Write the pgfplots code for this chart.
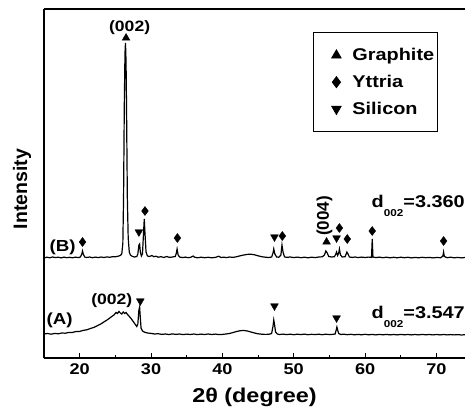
\documentclass[border=0pt]{standalone}
\usepackage{fontspec}
\setmainfont{Liberation Sans}[FakeStretch=1.17]
\newfontfamily\plainfont{Liberation Sans}
\usepackage{pgfplots}
\pgfplotsset{compat=1.18}
\newcommand\fs[1]{\fontsize{#1}{#1}\selectfont}
\pgfplotsset{
    phase/.style={only marks, black, mark size=4.5pt,
        legend image code/.code={\path[draw=none,fill=none] (0pt,-1pt) rectangle (36pt,1pt);
            \draw[mark repeat=2,mark phase=2,##1,only marks,mark size=5.5pt]
            plot coordinates {(0pt,0pt)(21pt,0pt)(36pt,0pt)};}},
}

% XRD pattern (B): graphitized sample, baseline ~100
\pgfplotstableread{
x y
15.0 100
15.4 100.8
15.8 100.2
16.2 101
16.6 100.4
17.0 100.8
17.4 100.1
17.8 100.9
18.2 100.3
18.6 100.7
19.0 100.2
19.4 100.9
19.8 100.4
20.1 101
20.3 104
20.4 107
20.5 104
20.7 101
21.0 100.5
21.4 101
21.8 100.3
22.2 100.9
22.6 100.4
23.0 101
23.4 100.5
23.8 101.1
24.2 100.7
24.6 101.3
25.0 101.2
25.4 101.8
25.7 102.5
25.9 104
26.05 115
26.15 160
26.25 250
26.35 305
26.42 315
26.5 296
26.58 240
26.68 160
26.8 120
26.95 106
27.1 103
27.4 101.5
27.7 101
28.0 101.5
28.15 104
28.3 113
28.4 114
28.5 106
28.65 102
28.8 104
28.95 125
29.05 139
29.15 125
29.3 106
29.5 102
29.8 101.5
30.1 102.5
30.4 101.3
30.7 101.8
31.0 100.8
31.4 101.3
31.8 100.5
32.2 101.5
32.6 100.6
33.0 101
33.4 101.5
33.55 105
33.65 109
33.8 103
34.0 101
34.4 100.4
34.8 100.9
35.2 100.3
35.6 100.8
35.9 102
36.1 100.8
36.5 100.2
37.0 100.8
37.5 100.3
38.0 100.7
38.5 100.2
39.0 100.6
39.5 101.8
39.8 100.5
40.2 100.8
40.6 100.4
41.0 101
41.5 100.6
42.0 101.3
42.5 102.2
43.0 103
43.5 103.6
44.0 103.8
44.5 103.2
45.0 102.2
45.5 101.3
46.0 100.8
46.5 100.5
46.9 101
47.1 105
47.2 109
47.35 104
47.6 101
47.9 100.8
48.2 103
48.35 113
48.5 106
48.7 101.2
49.0 100.6
49.5 101
50.0 100.4
50.5 100.9
51.0 100.3
51.5 100.8
52.0 100.2
52.5 100.8
53.0 100.4
53.5 101
54.0 101.2
54.3 103
54.5 107
54.7 105
54.9 101.5
55.3 101
55.7 101.3
55.9 104
56.0 106
56.15 102.5
56.3 105
56.4 109
56.55 103
56.8 101
57.2 101.3
57.45 106
57.6 104
57.8 101
58.2 100.6
58.6 101
59.0 100.4
59.5 100.9
60.0 100.5
60.5 100.9
60.9 100.6
61.0 119
61.1 101
61.5 100.4
62.0 100.9
62.5 100.3
63.0 100.8
63.5 100.2
64.0 100.7
64.5 100.2
65.0 100.8
65.5 100.3
66.0 100.7
66.5 100.1
67.0 100.6
67.5 100.2
68.0 100.7
68.5 100.3
69.0 100.6
69.5 100.1
70.0 100.5
70.6 100.3
70.9 102
71.0 106
71.1 101.5
71.5 100.3
72.0 100.8
72.5 100.2
73.0 100.6
73.5 100.1
74.0 100.5
}\patternB

% XRD pattern (A): baseline ~24
\pgfplotstableread{
x y
15.0 24
15.5 24.5
16.0 23.8
16.5 24.6
17.0 24.2
17.5 25
18.0 24.8
18.5 25.6
19.0 25.6
19.5 26.5
20.0 26.6
20.5 27.6
21.0 28.2
21.5 29.5
22.0 30.6
22.5 32.4
23.0 34.2
23.5 36.5
24.0 38.8
24.4 41
24.8 43
25.1 45.5
25.3 44.5
25.5 46.5
25.7 45
25.9 44
26.1 46
26.3 44.5
26.5 45.5
26.7 43.5
26.9 42
27.2 39.5
27.5 36.5
27.8 33.5
28.0 31.5
28.15 34
28.3 48
28.4 51
28.5 40
28.6 30
28.8 27
29.1 25.8
29.5 25
30.0 24.6
30.5 24
31.0 24.3
31.5 23.6
32.0 24
32.5 23.5
33.0 24.1
33.5 23.6
34.0 24
34.5 23.4
35.0 23.9
35.5 23.5
36.0 24
36.5 23.4
37.0 23.9
37.5 23.5
38.0 24
38.5 23.5
39.0 23.9
39.5 23.4
40.0 23.6
40.5 24
41.0 24.5
41.5 25.5
42.0 26.5
42.5 27.3
43.0 27.5
43.5 27
44.0 26
44.5 25
45.0 24.2
45.5 23.8
46.0 23.6
46.5 23.7
46.9 24.5
47.1 32
47.2 38
47.3 34
47.45 26
47.7 24
48.0 23.5
48.5 23.9
49.0 23.4
49.5 23.8
50.0 23.3
50.5 23.8
51.0 23.4
51.5 23.9
52.0 23.3
52.5 23.7
53.0 23.4
53.5 23.8
54.0 23.3
54.5 23.8
55.0 23.4
55.5 23.7
55.8 24
55.95 28
56.05 31
56.15 28
56.3 24.5
56.6 23.5
57.0 23.8
57.5 23.3
58.0 23.7
58.5 23.2
59.0 23.6
59.5 23.2
60.0 23.7
60.5 23.2
61.0 23.6
61.5 23.1
62.0 23.6
62.5 23.2
63.0 23.6
63.5 23.1
64.0 23.5
64.5 23.1
65.0 23.6
65.5 23.2
66.0 23.5
66.5 23.1
67.0 23.5
67.5 23.1
68.0 23.6
68.5 23.2
69.0 23.5
69.5 23.1
70.0 23.5
70.5 23.1
71.0 23.5
71.5 23.1
72.0 23.4
72.5 23.1
73.0 23.4
73.5 23
74.0 23.3
}\patternA

\begin{document}
\bfseries
\begin{tikzpicture}
\begin{axis}[
    width=421pt, height=349pt, scale only axis,
    xmin=15, xmax=74, ymin=0, ymax=349,
    axis x line=box, axis y line=left,
    axis line style={-, line width=1.2pt},
    xtick pos=bottom,
    xtick={20,30,...,70}, minor x tick num=1,
    ytick=\empty,
    tick align=inside,
    major tick length=5pt, minor tick length=3pt,
    every tick/.style={black, line width=1pt},
    /pgf/number format/assume math mode=true,
    xticklabel style={font=\fs{15.5}, yshift=-2pt},
    xlabel={2θ (degree)},
    xlabel style={font=\fs{20}, at={(axis description cs:0.5,-0.112)}, anchor=center},
    ylabel={\plainfont\fs{19.5}Intensity},
    ylabel style={at={(axis description cs:-0.052,0.484)}, anchor=center},
    clip=false,
    legend style={at={(0.639,0.934)}, anchor=north west, draw=black,
        line width=0.8pt, font=\fs{17}, inner xsep=2pt, inner ysep=16pt,
        row sep=13pt, nodes={inner xsep=1pt, inner ysep=0pt}},
    legend cell align=left,
]
% phase markers
\addplot[phase, mark=triangle*] coordinates {
    (26.5,320) (54.6,116)};
\addlegendentry{Graphite\hspace{-8pt}}
\addplot[phase, mark=diamond*] coordinates {
    (20.4,116) (29.15,147) (33.7,120) (48.4,122) (56.4,130) (57.5,119) (61.0,127) (71.0,117)};
\addlegendentry{Yttria}
\addplot[phase, mark=triangle*, mark options={rotate=180}] coordinates {
    (28.3,126) (47.3,121) (56.0,120) (28.5,57) (47.3,52) (56.0,40)};
\addlegendentry{Silicon}

% patterns
\addplot[black, line width=1.2pt, forget plot] table {\patternB};
\addplot[black, line width=1.2pt, forget plot] table {\patternA};

% labels
\node[font=\fs{15}, anchor=base] at (axis cs:27.0,326) {(002)};
\node[font=\fs{15}] at (axis cs:24.5,57) {(002)};
\node[font=\plainfont\fs{17}, rotate=90] at (axis cs:54.3,142) {(004)};
\node[font=\fs{16}] at (axis cs:17.6,111) {(B)};
\node[font=\fs{16}] at (axis cs:17.2,38) {(A)};
\node[font=\fs{17}, anchor=base east, inner sep=0pt] at (axis cs:74,150)
    {d\raisebox{-0.5em}{\fs{10}002}=3.360};
\node[font=\fs{17}, anchor=base east, inner sep=0pt] at (axis cs:74,39)
    {d\raisebox{-0.5em}{\fs{10}002}=3.547};
\end{axis}
\pgfresetboundingbox
\path ([shift={(-44pt,-51pt)}]current axis.south west) rectangle ([shift={(0pt,9pt)}]current axis.north east);
\end{tikzpicture}
\end{document}
